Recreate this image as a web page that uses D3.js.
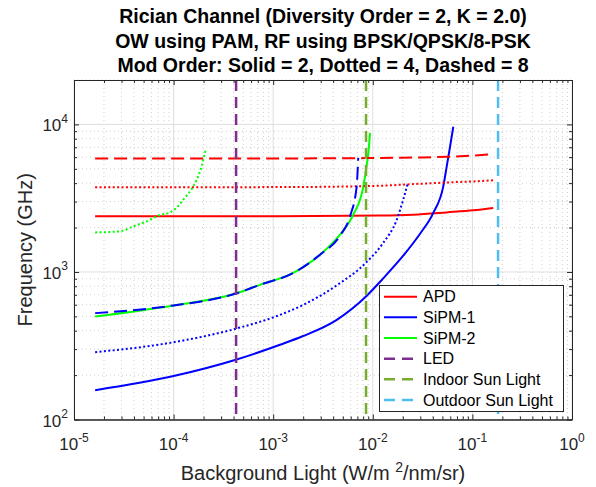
<!DOCTYPE html>
<html>
<head>
<meta charset="utf-8">
<script src="https://cdn.jsdelivr.net/npm/d3@7/dist/d3.min.js"></script>
<style>
    body { margin: 0; background: #fff; }
    svg { display: block; font-family: "Liberation Sans", Arial, Helvetica, sans-serif; }
</style>
</head>
<body>
<div id="chart"></div>
<script>
const titleLines = [
    'Rician Channel (Diversity Order = 2, K = 2.0)',
    'OW using PAM, RF using BPSK/QPSK/8-PSK',
    'Mod Order: Solid = 2, Dotted = 4, Dashed = 8',
];
const xTickExp = [-5, -4, -3, -2, -1, 0];
const yTickExp = [2, 3, 4];

// APD, flat until the very end
const apdX = [1.63e-5, 1.17e-3, 1.18e-2, 2.55e-2, 5.52e-2, 0.102, 0.162];
const apdSolid = [2382, 2385, 2410, 2445, 2534, 2616, 2717];
const apdDotted = [3750, 3760, 3840, 3940, 4040, 4110, 4180];
const apdDashed = [5875, 5880, 5920, 5960, 6030, 6150, 6290];

// SiPM-1
const sipm1SolidX = [1.63e-5, 1e-4, 4.13e-4, 1.17e-3, 2.0e-3, 4.35e-3, 8.7e-3, 1.26e-2, 2.02e-2, 2.98e-2, 4.05e-2, 5.1e-2, 5.52e-2, 5.96e-2, 6.43e-2];
const sipm1Solid = [158, 197, 253, 321, 368, 474, 690, 899, 1288, 1815, 2512, 3805, 5180, 7050, 9640];
const sipm1DottedX = [1.63e-5, 1e-4, 4.13e-4, 1.17e-3, 2.0e-3, 4.35e-3, 8.7e-3, 1.27e-2, 1.74e-2, 2.02e-2, 2.24e-2];
const sipm1Dotted = [286, 334, 411, 512, 598, 812, 1170, 1571, 2259, 3090, 3970];
const sipm1DashedX = [1.63e-5, 1e-4, 4.13e-4, 7.36e-4, 1.59e-3, 2.95e-3, 4.69e-3, 5.9e-3, 6.89e-3, 7.05e-3, 7.14e-3];
const sipm1Dashed = [526, 593, 711, 818, 984, 1310, 1762, 2382, 3805, 4940, 5930];

// SiPM-2
const sipm2SolidX = [1.63e-5, 1e-4, 4.13e-4, 7.36e-4, 1.59e-3, 2.95e-3, 4.69e-3, 6.37e-3, 8.04e-3, 8.55e-3, 9.02e-3, 9.38e-3];
const sipm2Solid = [499, 593, 711, 818, 984, 1310, 1791, 2445, 3805, 4940, 6410, 8770];
const sipm2DottedX = [1.63e-5, 2.9e-5, 3.94e-5, 5.37e-5, 7.01e-5, 9.2e-5, 1.07e-4, 1.25e-4, 1.52e-4, 1.71e-4, 1.91e-4, 2.1e-4];
const sipm2Dotted = [1854, 1884, 2037, 2203, 2410, 2536, 2718, 3091, 3656, 4228, 5200, 6760];

// background light levels
const sourceNames = ['LED', 'Indoor Sun Light', 'Outdoor Sun Light'];
const sourceLevels = [4.24e-4, 8.55e-3, 0.181];

const detectorNames = ['APD', 'SiPM-1', 'SiPM-2'];

(function () {
    const colours = {
        APD: '#FF0000',
        'SiPM-1': '#0000FF',
        'SiPM-2': '#00FF00',
        LED: '#7E2F8E',
        'Indoor Sun Light': '#77AC30',
        'Outdoor Sun Light': '#4DBEEE',
    };
    const dashes = {
        solid: null,
        dotted: '2,2.4',
        dashed: '13,6',
    };
    const axisColour = '#262626';

    const [W, H] = [596, 487];
    const [left, right, top, bottom] = [74, 572, 80, 419.5];

    const svg = d3.select('#chart')
                  .append('svg')
                  .attr('width', W)
                  .attr('height', H);

    const x = d3.scaleLog().domain([1e-5, 1]).range([left, right]);
    const y = d3.scaleLog().domain([100, 2e4]).range([bottom, top]);

    const xMajor = xTickExp.map(e => Math.pow(10, e));
    const yMajor = yTickExp.map(e => Math.pow(10, e));
    const isMajor = v => Math.abs(Math.log10(v) - Math.round(Math.log10(v))) < 1e-9;
    const xMinor = x.ticks().filter(v => !isMajor(v));
    const yMinor = y.ticks().filter(v => !isMajor(v));

    // grid
    const grid = svg.append('g');
    grid.selectAll('.xminor').data(xMinor).enter().append('line')
        .attr('x1', d => x(d)).attr('x2', d => x(d))
        .attr('y1', top).attr('y2', bottom)
        .attr('stroke', '#c4c4c4').attr('stroke-width', 0.8)
        .attr('stroke-dasharray', '1,3');
    grid.selectAll('.yminor').data(yMinor).enter().append('line')
        .attr('y1', d => y(d)).attr('y2', d => y(d))
        .attr('x1', left).attr('x2', right)
        .attr('stroke', '#c4c4c4').attr('stroke-width', 0.8)
        .attr('stroke-dasharray', '1,3');
    grid.selectAll('.xmajor').data(xMajor).enter().append('line')
        .attr('x1', d => x(d)).attr('x2', d => x(d))
        .attr('y1', top).attr('y2', bottom)
        .attr('stroke', '#dedede').attr('stroke-width', 1);
    grid.selectAll('.ymajor').data(yMajor).enter().append('line')
        .attr('y1', d => y(d)).attr('y2', d => y(d))
        .attr('x1', left).attr('x2', right)
        .attr('stroke', '#dedede').attr('stroke-width', 1);

    // curves
    const line = d3.line()
                   .x(d => x(d[0]))
                   .y(d => y(d[1]))
                   .curve(d3.curveMonotoneX);
    const zip = (xs, ys) => xs.map((v, i) => [v, ys[i]]);

    const curves = [
        { name: 'APD', style: 'solid', data: zip(apdX, apdSolid) },
        { name: 'SiPM-1', style: 'solid', data: zip(sipm1SolidX, sipm1Solid) },
        { name: 'SiPM-2', style: 'solid', data: zip(sipm2SolidX, sipm2Solid) },
        { name: 'APD', style: 'dotted', data: zip(apdX, apdDotted) },
        { name: 'SiPM-1', style: 'dotted', data: zip(sipm1DottedX, sipm1Dotted) },
        { name: 'SiPM-2', style: 'dotted', data: zip(sipm2DottedX, sipm2Dotted) },
        { name: 'APD', style: 'dashed', data: zip(apdX, apdDashed) },
        { name: 'SiPM-1', style: 'dashed', data: zip(sipm1DashedX, sipm1Dashed) },
    ];

    const plot = svg.append('g');
    plot.selectAll('.curve')
        .data(curves)
        .enter()
        .append('path')
        .attr('d', d => line(d.data))
        .attr('fill', 'none')
        .attr('stroke', d => colours[d.name])
        .attr('stroke-width', 2)
        .attr('stroke-dasharray', d => dashes[d.style]);

    plot.selectAll('.source')
        .data(sourceLevels)
        .enter()
        .append('line')
        .attr('x1', d => x(d)).attr('x2', d => x(d))
        .attr('y1', top).attr('y2', bottom)
        .attr('stroke', (d, i) => colours[sourceNames[i]])
        .attr('stroke-width', 2.5)
        .attr('stroke-dasharray', '11,6');

    // axes, ticks on all four sides pointing in
    const styleAxis = g => {
        g.select('.domain').attr('stroke', axisColour).attr('stroke-width', 1);
        g.selectAll('.tick line').attr('stroke', axisColour);
        g.selectAll('.tick text').remove();
    };
    const addAxis = (axis, values, size, transform) => {
        svg.append('g')
           .attr('transform', transform)
           .call(axis.tickValues(values).tickSize(-size).tickSizeOuter(0).tickFormat(''))
           .call(styleAxis);
    };
    addAxis(d3.axisBottom(x), xMinor, 3, `translate(0,${bottom})`);
    addAxis(d3.axisBottom(x), xMajor, 5, `translate(0,${bottom})`);
    addAxis(d3.axisTop(x), xMinor, 3, `translate(0,${top})`);
    addAxis(d3.axisTop(x), xMajor, 5, `translate(0,${top})`);
    addAxis(d3.axisLeft(y), yMinor, 3, `translate(${left},0)`);
    addAxis(d3.axisLeft(y), yMajor, 5, `translate(${left},0)`);
    addAxis(d3.axisRight(y), yMinor, 3, `translate(${right},0)`);
    addAxis(d3.axisRight(y), yMajor, 5, `translate(${right},0)`);

    // tick labels with superscript exponents
    const tickFont = 17;
    const supFont = 12;
    const xLabels = svg.selectAll('.xlab')
                       .data(xTickExp)
                       .enter()
                       .append('text')
                       .attr('x', d => x(Math.pow(10, d)))
                       .attr('y', 450)
                       .attr('text-anchor', 'middle')
                       .attr('font-size', tickFont)
                       .attr('fill', axisColour);
    xLabels.append('tspan').text('10');
    xLabels.append('tspan').attr('dy', -8.5).attr('font-size', supFont).text(d => d);

    const yLabels = svg.selectAll('.ylab')
                       .data(yTickExp)
                       .enter()
                       .append('text')
                       .attr('x', left - 6)
                       .attr('y', d => y(Math.pow(10, d)) + 7)
                       .attr('text-anchor', 'end')
                       .attr('font-size', tickFont)
                       .attr('fill', axisColour);
    yLabels.append('tspan').text('10');
    yLabels.append('tspan').attr('dy', -8.5).attr('font-size', supFont).text(d => d);

    // axis titles
    const xTitle = svg.append('text')
                      .attr('x', (left + right) / 2)
                      .attr('y', 480)
                      .attr('text-anchor', 'middle')
                      .attr('font-size', 20)
                      .attr('fill', axisColour);
    xTitle.append('tspan').text('Background Light (W/m ');
    xTitle.append('tspan').attr('dy', -8).attr('font-size', 14).text('2');
    xTitle.append('tspan').attr('dy', 8).text('/nm/sr)');

    svg.append('text')
       .attr('transform', `translate(32,${(top + bottom) / 2}) rotate(-90)`)
       .attr('text-anchor', 'middle')
       .attr('font-size', 20)
       .attr('fill', axisColour)
       .text('Frequency (GHz)');

    svg.selectAll('.title')
       .data(titleLines)
       .enter()
       .append('text')
       .attr('x', (left + right) / 2)
       .attr('y', (d, i) => 23 + i * 24.5)
       .attr('text-anchor', 'middle')
       .attr('font-size', 19.5)
       .attr('font-weight', 'bold')
       .attr('fill', '#000')
       .text(d => d);

    // legend
    const legendItems = detectorNames.map(n => ({ name: n, dash: null }))
        .concat(sourceNames.map(n => ({ name: n, dash: '11,7' })));
    const legend = svg.append('g');
    legend.append('rect')
          .attr('x', 379.5).attr('y', 285.5)
          .attr('width', 184).attr('height', 126)
          .attr('fill', '#fff')
          .attr('stroke', axisColour)
          .attr('stroke-width', 1);
    const rows = legend.selectAll('.row')
                       .data(legendItems)
                       .enter()
                       .append('g')
                       .attr('transform', (d, i) => `translate(0,${296.7 + i * 20.66})`);
    rows.append('line')
        .attr('x1', 384).attr('x2', 417)
        .attr('stroke', d => colours[d.name])
        .attr('stroke-width', d => d.dash ? 2.5 : 2)
        .attr('stroke-dasharray', d => d.dash);
    rows.append('text')
        .attr('x', 423)
        .attr('y', 5.5)
        .attr('font-size', 16)
        .attr('fill', '#000')
        .text(d => d.name);
})();
</script>
</body>
</html>
